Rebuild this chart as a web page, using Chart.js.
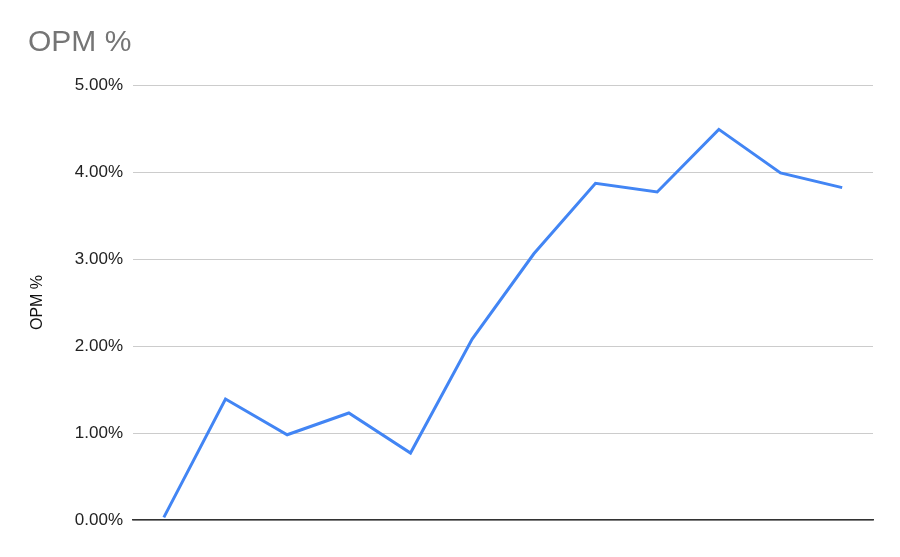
<!DOCTYPE html>
<html>
<head>
<meta charset="utf-8">
<script src="https://cdn.jsdelivr.net/npm/chart.js@4"></script>
<style>
  html, body { margin: 0; padding: 0; background: #fff; }
  #wrap { width: 900px; height: 557px; }
</style>
</head>
<body>
<div id="wrap"><canvas id="opm"></canvas></div>
<script>
'use strict';

//===== data =====//
var periods = ['1', '2', '3', '4', '5', '6', '7', '8', '9', '10', '11', '12'];
var opmValues = [0.03, 1.39, 0.98, 1.23, 0.77, 2.08, 3.06, 3.87, 3.77, 4.49, 3.99, 3.82];
var yTicks = [0, 1, 2, 3, 4, 5];

var FONT = '"Liberation Sans", Arial, sans-serif';

var ctx = document.getElementById('opm').getContext('2d');
var chart = new Chart(ctx, {
  type: 'line',
  data: {
    labels: periods,
    datasets: [{
      label: 'OPM %',
      data: opmValues,
      borderColor: '#4285f4',
      backgroundColor: '#4285f4',
      borderWidth: 3,
      pointRadius: 0,
      tension: 0,
      fill: false
    }]
  },
  options: {
    responsive: true,
    maintainAspectRatio: false,
    animation: false,
    layout: { padding: { left: 28, right: 27, top: 25, bottom: 37 } },
    plugins: {
      legend: { display: false },
      tooltip: { enabled: false },
      title: {
        display: true,
        text: 'OPM %',
        align: 'start',
        color: '#757575',
        font: { family: FONT, size: 30, weight: 'normal' },
        padding: { top: 0, bottom: 24 }
      }
    },
    scales: {
      x: {
        type: 'category',
        offset: true,
        ticks: { display: false },
        grid: { display: false, drawTicks: false },
        border: { display: true, color: '#333', width: 1.5 }
      },
      y: {
        min: 0,
        max: 5,
        afterBuildTicks: function (scale) {
          scale.ticks = yTicks.map(function (v) { return { value: v }; });
        },
        afterFit: function (scale) { scale.width = 105; },
        ticks: {
          padding: 10,
          color: '#222',
          font: { family: FONT, size: 17 },
          callback: function (v) { return v.toFixed(2) + '%'; }
        },
        grid: { color: '#cccccc', lineWidth: 1, drawTicks: false },
        border: { display: false },
        title: {
          display: true,
          text: 'OPM %',
          color: '#111',
          font: { family: FONT, size: 16 },
          padding: 0
        }
      }
    }
  }
});
</script>
</body>
</html>
